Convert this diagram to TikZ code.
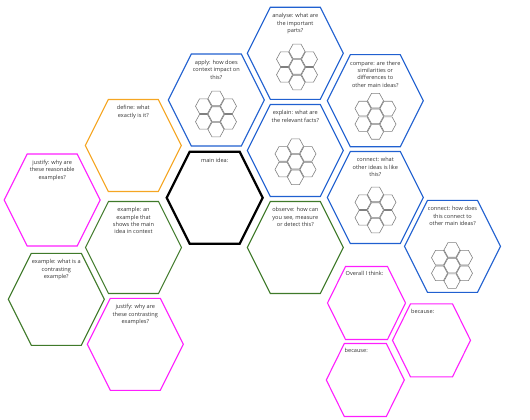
\documentclass[tikz,border=0pt]{standalone}
\usepackage{fontspec}
\setmainfont{Open Sans}
\definecolor{hexblue}{HTML}{2060D0}
\definecolor{hexorange}{HTML}{F5A623}
\definecolor{hexgreen}{HTML}{3F7A2A}
\definecolor{hexpink}{HTML}{FF1EFF}
\definecolor{icongrey}{HTML}{808080}
\definecolor{txtgrey}{HTML}{333333}
\tikzset{
  hexline/.style={line width=1.1pt, line join=miter},
  bluehex/.style={hexline, draw=hexblue},
  orangehex/.style={hexline, draw=hexorange},
  greenhex/.style={hexline, draw=hexgreen},
  pinkhex/.style={hexline, draw=hexpink},
  mainhex/.style={line width=2.2pt, draw=black},
  txt/.style={font=\fontsize{5.6}{7.3}\selectfont, align=center, inner sep=0pt, anchor=north, text=txtgrey},
  txtl/.style={txt, align=left, anchor=north west},
  icon/.style={draw=icongrey, line width=0.6pt},
  bighex/.pic={\draw[pic actions] (-48,0) -- (-25,-46) -- (25,-46) -- (48,0) -- (25,46) -- (-25,46) -- cycle;},
  smallhex/.pic={\draw[pic actions] (-39,0) -- (-21,-36.5) -- (21,-36.5) -- (39,0) -- (21,36.5) -- (-21,36.5) -- cycle;},
  cluster/.pic={\foreach \dx/\dy in {0/0,0/-15.6,0/15.6,-12.5/-7.8,-12.5/7.8,12.5/-7.8,12.5/7.8}
     {\draw[icon, shift={(\dx,\dy)}] (-8,0) -- (-4,-7.3) -- (4,-7.3) -- (8,0) -- (4,7.3) -- (-4,7.3) -- cycle;}}
}
\begin{document}
\begin{tikzpicture}[x=1pt,y=-1pt]
\useasboundingbox (0,0) rectangle (530,420);
% big hexagons
\pic[bluehex] (analyse) at (295.3,53.3) {bighex};
\pic[bluehex] (apply) at (216.3,100) {bighex};
\pic[bluehex] (compare) at (375.3,100.7) {bighex};
\pic[bluehex] (connwhat) at (375.3,197.5) {bighex};
\pic[bluehex] (connhow) at (452.5,246.3) {bighex};
\pic[bluehex] (explain) at (295.3,150.5) {bighex};
\pic[greenhex] (observe) at (295.3,247.5) {bighex};
\pic[orangehex] (define) at (133.3,145.5) {bighex};
\pic[mainhex] (main) at (214.7,197.8) {bighex};
\pic[pinkhex] (justify) at (52.2,200) {bighex};
\pic[greenhex] (example) at (133.5,247.5) {bighex};
\pic[greenhex] (excontr) at (56.3,299.3) {bighex};
\pic[pinkhex] (justcontr) at (135.3,344.3) {bighex};
% small hexagons
\pic[pinkhex] (overall) at (366.5,303) {smallhex};
\pic[pinkhex] (becausea) at (431.5,340.3) {smallhex};
\pic[pinkhex] (becauseb) at (365.3,380) {smallhex};
% icons
\pic (ianalyse) at (297,67) {cluster};
\pic (iapply) at (216,114) {cluster};
\pic (icompare) at (375.5,116.3) {cluster};
\pic (iconnwhat) at (375.5,210) {cluster};
\pic (iexplain) at (295.5,161.7) {cluster};
\pic (iconnhow) at (452,265.5) {cluster};
% texts
\node[txt] (tanalyse) at (295.3,13.3) {analyse: what are\\the important\\parts?};
\node[txt] (tapply) at (216.3,60) {apply: how does\\context impact on\\this?};
\node[txt] (tcompare) at (375.3,60.7) {compare: are there\\similarities or\\differences to\\other main ideas?};
\node[txt] (tconnwhat) at (375.3,157.5) {connect: what\\other ideas is like\\this?};
\node[txt] (tconnhow) at (452.5,206.3) {connect: how does\\this connect to\\other main ideas?};
\node[txt] (texplain) at (295.3,110.5) {explain: what are\\the relevant facts?};
\node[txt] (tobserve) at (295.3,207.5) {observe: how can\\you see, measure\\or detect this?};
\node[txt] (tdefine) at (133.3,105.5) {define: what\\exactly is it?};
\node[txt] (tmain) at (214.7,157.8) {main idea:};
\node[txt] (tjustify) at (52.2,160) {justify: why are\\these reasonable\\examples?};
\node[txt] (texample) at (133.5,207.5) {example: an\\example that\\shows the main\\idea in context};
\node[txt] (texcontr) at (56.3,259.3) {example: what is a\\contrasting\\example?};
\node[txt] (tjustcontr) at (135.3,304.3) {justify: why are\\these contrasting\\examples?};
\node[txtl] (toverall) at (345.5,271.5) {Overall I think:};
\node[txtl] (tbecausea) at (411,309) {because:};
\node[txtl] (tbecauseb) at (344.5,348.5) {because:};
\end{tikzpicture}
\end{document}
